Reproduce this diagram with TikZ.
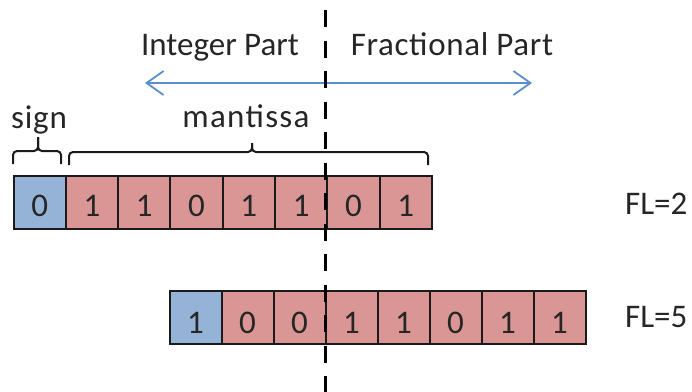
\documentclass[tikz,border=0pt]{standalone}
\usepackage{fontspec}
\setmainfont{Carlito}
\newfontfamily\wideA[LetterSpace=4]{Carlito}
\newfontfamily\wideB[LetterSpace=2.5]{Carlito}
\newfontfamily\wideC[LetterSpace=2]{Carlito}
\usetikzlibrary{arrows.meta}
\definecolor{signblue}{HTML}{95B3D7}
\definecolor{mantred}{HTML}{D99694}
\definecolor{arrowblue}{HTML}{5B8FCB}
\definecolor{edgegray}{HTML}{1A1A1A}
\tikzset{
  bitbox/.style={draw=edgegray, line width=2pt, minimum width=52.3pt, minimum height=53pt,
    inner sep=0pt, anchor=north west, font=\fontsize{33}{38}\selectfont, text depth=0pt, text=black!85},
  signbit/.style={bitbox, fill=signblue},
  mantbit/.style={bitbox, fill=mantred},
  lbl/.style={font=\fontsize{33}{38}\selectfont, inner sep=0pt, text=black!85},
  bracestyle/.style={draw=edgegray, line width=2pt, rounded corners=4pt},
  divider/.style={draw=black, line width=3pt, dash pattern=on 17pt off 13.5pt},
  rangearrow/.style={draw=arrowblue, line width=1.8pt, {Straight Barb[length=17pt,width=24pt]}-{Straight Barb[length=17pt,width=24pt]}}
}
\begin{document}
\begin{tikzpicture}[x=1pt,y=-1pt]
\useasboundingbox (0,0) rectangle (692,391);
\fill[white] (0,0) rectangle (692,391);

% row 1 (FL=2)
\node[signbit, text height=27pt] (a0) at (12.5,175) {0};
\foreach \v [count=\i] in {1,1,0,1,1,0,1}{
  \node[mantbit, text height=27pt] (a\i) at ({12.5+52.3*\i},175) {\v};
}
% row 2 (FL=5)
\node[signbit, minimum width=52pt, text height=32pt] (b0) at (168.5,290) {1};
\foreach \v [count=\i] in {0,0,1,1,0,1,1}{
  \node[mantbit, minimum width=52pt, text height=32pt] (b\i) at ({168.5+52*\i},290) {\v};
}

% FL labels
\node[lbl, anchor=base west] (fl2) at (625,214) {FL=2};
\node[lbl, anchor=base west] (fl5) at (625,327) {FL=5};

% braces
\coordinate (sL) at (13,164);
\coordinate (sR) at (61,164);
\coordinate (sT) at (38,137);
\draw[bracestyle] (sL) -- (13,151) -- (38,151) -- (sT);
\draw[bracestyle] (sR) -- (61,151) -- (38,151) -- (sT);
\coordinate (mL) at (69,165);
\coordinate (mR) at (428,165);
\coordinate (mT) at (252,143);
\draw[bracestyle] (mL) -- (69,152) -- (252,152) -- (mT);
\draw[bracestyle] (mR) -- (428,152) -- (252,152) -- (mT);
\node[lbl, anchor=base] (sign) at (39,128) {\wideB sign};
\node[lbl, anchor=base] (mant) at (246,127) {\wideA mantissa};

% part labels and arrow
\node[lbl, anchor=base] (ip) at (220,55) {Integer Part};
\node[lbl, anchor=base] (fp) at (452,55) {\wideC Fractional Part};
\coordinate (aL) at (145,83);
\coordinate (aR) at (532,83);
\draw[rangearrow] (aL) -- (aR);

% dashed divider
\coordinate (dT) at (325,10);
\coordinate (dB) at (325,392);
\draw[divider] (dT) -- (dB);
\end{tikzpicture}
\end{document}
